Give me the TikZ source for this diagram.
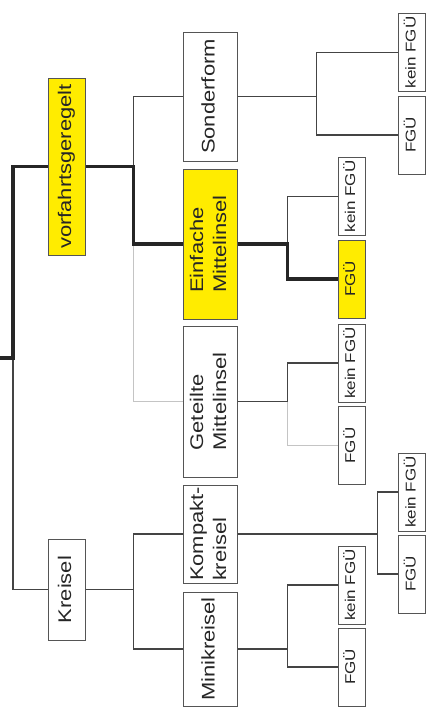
\documentclass[tikz,border=0pt]{standalone}
\usepackage{fontspec}
\setmainfont{Liberation Sans}
\usetikzlibrary{positioning, calc}
\definecolor{gelb}{HTML}{FFEC00}
\definecolor{rahmen}{HTML}{555555}
\definecolor{linie}{HTML}{444444}
\definecolor{hell}{HTML}{C4C4C4}
\newcommand{\STRETCH}{1.2}
\newcommand{\LEAFW}{27pt}
\newcommand{\LEAFH}{78pt}
\newcommand{\BOXW}{54pt}
\newcommand{\vtext}[1]{\rotatebox{90}{\scalebox{\STRETCH}[1]{\begin{tabular}{@{}l@{}}#1\end{tabular}}}}

\tikzset{
    kasten/.style={draw=rahmen, line width=1pt, fill=white, inner sep=0pt, text=black!85,
        font=\fontsize{18.3}{23}\selectfont},
    mittel/.style={kasten, minimum width=\BOXW},
    blatt/.style={kasten, minimum width=\LEAFW, minimum height=\LEAFH,
        font=\fontsize{14.2}{16}\selectfont},
    duenn/.style={draw=linie, line width=1.2pt},
    dick/.style={draw=black!85, line width=3.4pt},
    grau/.style={draw=hell, line width=1.2pt}
}

\begin{document}
\begin{tikzpicture}[x=1pt, y=-1pt]
    \useasboundingbox (0,0) rectangle (430,720);

    % erste Ebene
    \node[kasten, fill=gelb, minimum width=37pt, minimum height=177pt] (vorf) at (66.5,166.5) {\vtext{vorfahrtsgeregelt}};
    \node[kasten, minimum width=37pt, minimum height=101pt] (kreisel) at (66.5,589.5) {\vtext{Kreisel}};

    % zweite Ebene
    \node[mittel, minimum height=129pt] (sonder) at (210,96.5) {\vtext{Sonderform}};
    \node[mittel, fill=gelb, minimum height=150pt] (einfach) at (210,244) {\vtext{Einfache\\Mittelinsel}};
    \node[mittel, minimum height=151pt] (geteilt) at (210,401.5) {\vtext{Geteilte\\Mittelinsel}};
    \node[mittel, minimum height=98pt] (kompakt) at (210,534) {\vtext{Kompakt-\\kreisel}};
    \node[mittel, minimum height=114pt] (mini) at (210,649) {\vtext{Minikreisel}};

    % dritte Ebene (FGÜ / kein FGÜ)
    \node[blatt] (sonderKein) at (412,52.5) {\vtext{kein FGÜ}};
    \node[blatt] (sonderFgu) at (412,135) {\vtext{FGÜ}};
    \node[blatt] (einfachKein) at (351.5,196.5) {\vtext{kein FGÜ}};
    \node[blatt, fill=gelb] (einfachFgu) at (351.5,279) {\vtext{FGÜ}};
    \node[blatt] (geteiltKein) at (351.5,363) {\vtext{kein FGÜ}};
    \node[blatt] (geteiltFgu) at (351.5,445.5) {\vtext{FGÜ}};
    \node[blatt] (kompaktKein) at (412,492) {\vtext{kein FGÜ}};
    \node[blatt] (kompaktFgu) at (412,574) {\vtext{FGÜ}};
    \node[blatt] (miniKein) at (351.5,585) {\vtext{kein FGÜ}};
    \node[blatt] (miniFgu) at (351.5,667) {\vtext{FGÜ}};

    % Verzweigungspunkte
    \coordinate (wurzel) at (0,358);
    \coordinate (g0) at (13,358);
    \path (vorf.east) ++(48,0) coordinate (g1);
    \path (kreisel.east) ++(48,0) coordinate (g2);
    \path (sonder.east) ++(79,0) coordinate (g3);
    \path (einfach.east) ++(50,0) coordinate (g4);
    \path (geteilt.east) ++(50,0) coordinate (g5);
    \path (kompakt.east) ++(140,0) coordinate (g6);
    \path (mini.east) ++(50,0) coordinate (g7);

    % Verbindungen
    \draw[duenn] (g0) |- (kreisel.west);
    \draw[dick] (wurzel) -- (g0) |- (vorf.west);

    \draw[duenn] (g1) |- (sonder.west);
    \draw[grau] (g1 |- einfach.west) |- (geteilt.west);
    \draw[dick] (vorf.east) -- (g1) |- (einfach.west);

    \draw[duenn] (kreisel.east) -- (g2) |- (kompakt.west);
    \draw[duenn] (g2) |- (mini.west);

    \draw[duenn] (sonder.east) -- (g3) |- (sonderKein.west);
    \draw[duenn] (g3) |- (sonderFgu.west);

    \draw[duenn] (g4) |- (einfachKein.west);
    \draw[dick] (einfach.east) -- (g4) |- (einfachFgu.west);

    \draw[duenn] (geteilt.east) -- (g5) |- (geteiltKein.west);
    \draw[grau] (g5) |- (geteiltFgu.west);

    \draw[duenn] (kompakt.east) -- (g6) |- (kompaktKein.west);
    \draw[duenn] (g6) |- (kompaktFgu.west);

    \draw[duenn] (mini.east) -- (g7) |- (miniKein.west);
    \draw[duenn] (g7) |- (miniFgu.west);
\end{tikzpicture}
\end{document}
